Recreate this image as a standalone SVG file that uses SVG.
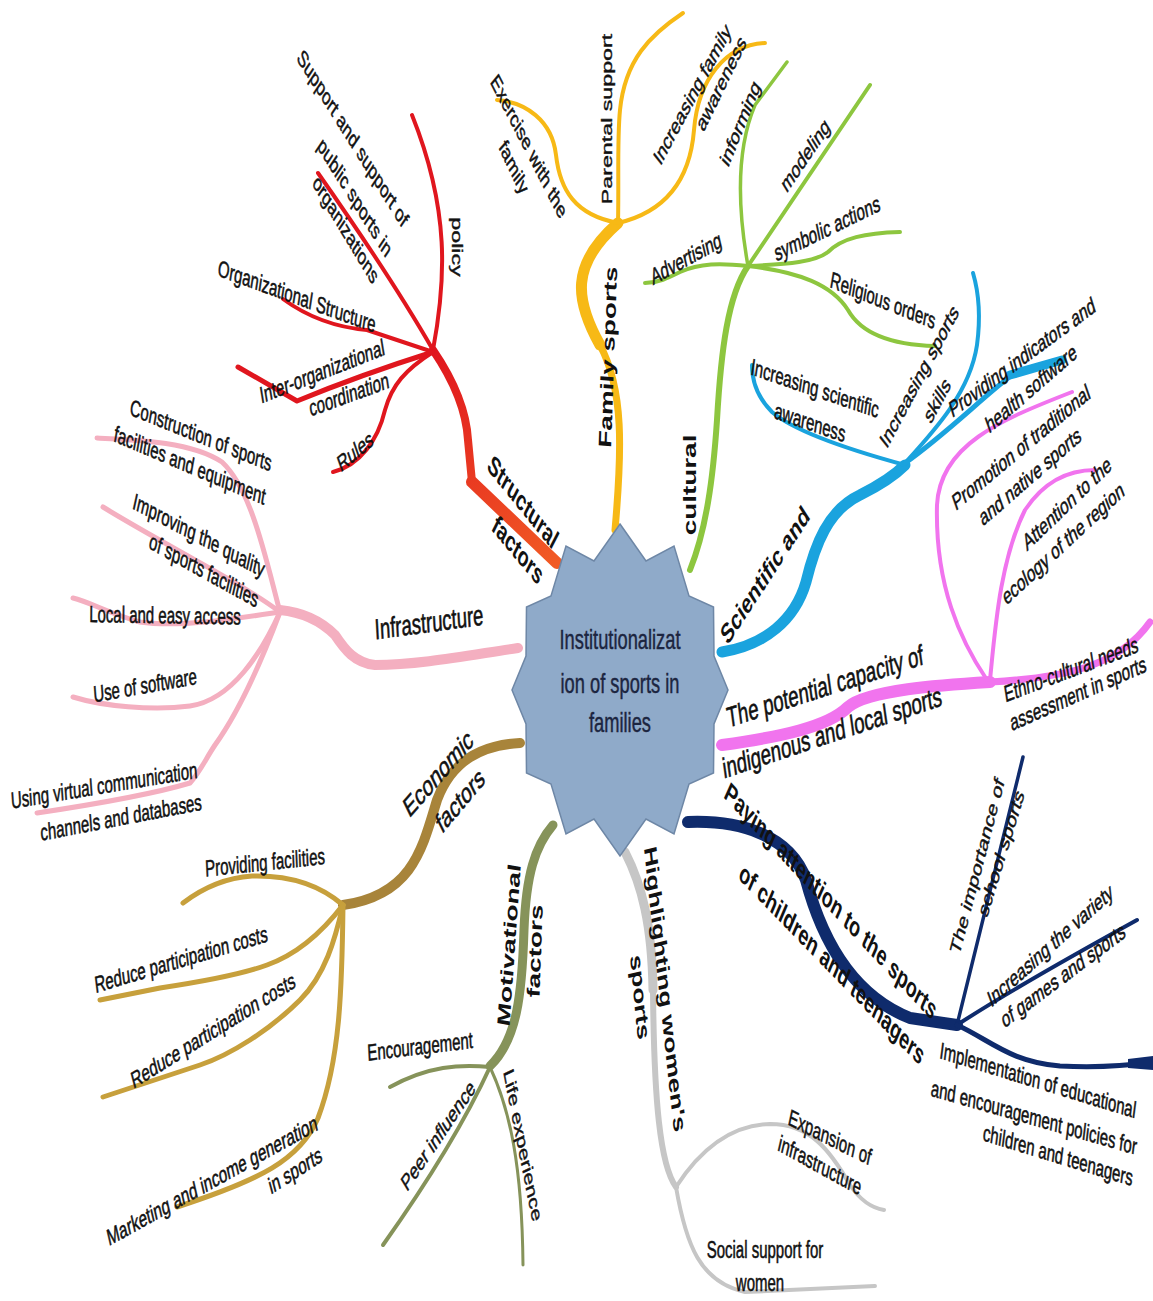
<svg xmlns="http://www.w3.org/2000/svg" width="1153" height="1301" viewBox="0 0 1153 1301">
<style>
text{font-family:"Liberation Sans",Arial,sans-serif;fill:#111;text-anchor:middle;dominant-baseline:central}
.s{font-size:15px;stroke:#111;stroke-width:0.35px}
.m{font-size:18px;font-weight:bold}
.r{font-size:18.5px;stroke:#111;stroke-width:0.4px}
.c{font-size:18.3px;fill:#1c2540;stroke:#1c2540;stroke-width:0.3px}
.ln{fill:none;stroke-linecap:round;stroke-linejoin:round}
.red{stroke:#E0161E}.yel{stroke:#F7B916}.grn{stroke:#8DC63F}.blu{stroke:#1AA3DE}
.mag{stroke:#F174EE}.nav{stroke:#0F2B6C}.gry{stroke:#C6C6C6}.olv{stroke:#86935A}
.gld{stroke:#C7A03C}.brn{stroke:#A8843A}.pnk{stroke:#F4AFC0}
</style>
<defs>
<linearGradient id="gRed" gradientUnits="userSpaceOnUse" x1="557" y1="563" x2="433" y2="350">
<stop offset="0" stop-color="#F15A24"/><stop offset="1" stop-color="#E0161E"/>
</linearGradient>
</defs>
<rect width="1153" height="1301" fill="#fff"/>
<g id="connectors">
<!-- red -->
<path class="ln" stroke="url(#gRed)" stroke-width="12" d="M557,563 L472,482"/>
<path class="ln" stroke="url(#gRed)" stroke-width="8" d="M472,482 L468,440 C466,405 450,375 433,350"/>
<path class="ln red" stroke-width="4" d="M433,350 C446,280 450,210 412,115"/>
<path class="ln red" stroke-width="4" d="M433,350 C410,310 365,240 318,173"/>
<path class="ln red" stroke-width="4" d="M283,299 Q320,326 367,330 L433,352"/>
<path class="ln red" stroke-width="5" d="M238,367 L297,401 Q360,375 433,352"/>
<path class="ln red" stroke-width="4" d="M433,352 C405,370 392,385 385,410 C378,440 360,465 333,472"/>
<!-- yellow -->
<path class="ln yel" stroke-width="7" d="M615,530 C622,450 624,390 600,345"/>
<path class="ln yel" stroke-width="11" d="M600,345 C575,300 570,265 618,223"/>
<path class="ln yel" stroke-width="4" d="M618,223 C575,215 560,190 556,155 C552,120 525,102 497,100"/>
<path class="ln yel" stroke-width="4" d="M618,223 C619,180 617,140 620,110 C625,60 650,35 683,13"/>
<path class="ln yel" stroke-width="4" d="M618,223 C665,212 690,180 694,130 C698,80 725,45 765,43"/>
<!-- green -->
<path class="ln grn" stroke-width="6" d="M690,570 C706,530 713,480 717,420 C721,350 728,295 748,266"/>
<path class="ln grn" stroke-width="3.5" d="M748,266 C738,210 736,150 755,105 L787,62"/>
<path class="ln grn" stroke-width="4" d="M748,266 L870,85"/>
<path class="ln grn" stroke-width="4" d="M748,266 C790,264 815,262 828,252 C842,238 865,233 900,232"/>
<path class="ln grn" stroke-width="4" d="M748,266 C800,272 832,285 848,310 C862,335 895,345 935,346"/>
<path class="ln grn" stroke-width="4" d="M748,266 C720,263 700,263 680,272 C668,278 658,283 645,283"/>
<!-- blue -->
<path class="ln blu" stroke-width="11" d="M722,652 C765,645 795,620 806,582 C815,545 828,510 860,495 C880,485 895,475 905,465"/>
<path class="ln blu" stroke-width="4" d="M905,465 C850,450 795,432 772,412 C758,398 752,382 752,365"/>
<path class="ln blu" stroke-width="4" d="M905,463 C935,430 970,392 977,345 C981,315 978,290 973,273"/>
<path class="ln blu" stroke-width="5" d="M905,463 C945,435 985,395 1012,375"/>
<path class="ln blu" stroke-width="9" d="M1010,375 L1062,360"/>
<!-- magenta -->
<path class="ln mag" stroke-width="12" d="M722,745 C780,737 828,727 848,707 C868,690 940,685 990,682"/>
<path class="ln mag" stroke-width="7" d="M990,682 C1060,678 1118,668 1150,622"/>
<path class="ln mag" stroke-width="4" d="M987,680 C960,640 935,585 937,505 C940,445 1000,420 1072,392"/>
<path class="ln mag" stroke-width="4" d="M990,680 C995,630 1000,560 1025,510 C1045,480 1070,470 1095,470"/>
<!-- navy -->
<path class="ln nav" stroke-width="12" d="M688,822 C740,820 790,835 806,880 C822,940 852,995 910,1018 L957,1025"/>
<path class="ln nav" stroke-width="3.5" d="M957,1025 L1023,757"/>
<path class="ln nav" stroke-width="4" d="M957,1025 C995,1000 1050,968 1137,920"/>
<path class="ln nav" stroke-width="5" d="M957,1025 C990,1040 1010,1062 1060,1066 C1100,1068 1125,1066 1150,1062"/>
<path fill="#0F2B6C" d="M1128,1059 L1153,1056 L1153,1070 L1128,1068 Z"/>
<!-- gray -->
<path class="ln gry" stroke-width="9" d="M625,852 C642,885 652,925 653,990"/>
<path class="ln gry" stroke-width="6" d="M653,990 C654,1100 660,1165 676,1187"/>
<path class="ln gry" stroke-width="4" d="M676,1187 C700,1150 730,1125 770,1124 C810,1124 830,1150 850,1185 C860,1200 872,1208 884,1210"/>
<path class="ln gry" stroke-width="4" d="M676,1187 C686,1245 700,1282 745,1292 L875,1286"/>
<!-- olive -->
<path class="ln olv" stroke-width="9" d="M553,825 C535,846 526,875 524,930 C522,995 517,1040 490,1066"/>
<path class="ln olv" stroke-width="4" d="M490,1067 C460,1064 428,1066 390,1087"/>
<path class="ln olv" stroke-width="4" d="M490,1067 C462,1128 422,1190 383,1245"/>
<path class="ln olv" stroke-width="3" d="M490,1067 C510,1110 522,1165 523,1265"/>
<!-- gold -->
<path class="ln brn" stroke-width="10" d="M520,743 C482,745 452,760 437,800 C422,850 412,895 343,905"/>
<path class="ln gld" stroke-width="5" d="M343,905 C320,885 290,875 252,876 C222,878 200,890 183,903"/>
<path class="ln gld" stroke-width="5" d="M343,905 C320,935 295,955 267,965 C240,975 200,982 160,988 L100,1000"/>
<path class="ln gld" stroke-width="5" d="M343,905 C335,940 325,975 300,1000 C270,1030 230,1055 200,1065 L103,1097"/>
<path class="ln gld" stroke-width="5" d="M343,905 C342,990 340,1060 318,1118 C300,1160 260,1180 177,1207"/>
<!-- pink -->
<path class="ln pnk" stroke-width="10" d="M518,648 C470,655 420,665 375,665 C355,663 345,650 335,635 C320,620 300,612 280,610"/>
<path class="ln pnk" stroke-width="5" d="M280,612 C266,560 252,490 222,462 C192,442 140,440 97,438"/>
<path class="ln pnk" stroke-width="5" d="M280,612 C240,582 165,545 103,507"/>
<path class="ln pnk" stroke-width="5" d="M280,612 C240,618 180,628 140,622 C110,614 90,602 73,598"/>
<path class="ln pnk" stroke-width="5" d="M280,612 C262,652 232,700 190,706 C152,711 102,706 73,697"/>
<path class="ln pnk" stroke-width="5" d="M280,612 C262,660 240,710 215,745 C205,760 200,772 190,783 C150,795 90,805 37,813"/>
</g>
<g id="center">
<polygon fill="#8FAAC9" stroke="#6E87A6" stroke-width="1.5" points="620,524 646,561 674,546 689,596 713.5,607 714,656 728,690 714,724 713.5,773 689,784 674,834 646,819 620,856 594,819 566,834 551,784 526.5,773 526,724 512,690 526,656 526.5,607 551,596 566,546 594,561"/>
<text class="c" transform="translate(620,639) scale(1,1.55)">Institutionalizat</text>
<text class="c" transform="translate(620,683) scale(1,1.55)">ion of sports in</text>
<text class="c" transform="translate(620,722) scale(1,1.55)">families</text>
</g>
<g id="structural">
<text class="m" transform="translate(523,502) scale(1,1.55) rotate(38.5)">Structural</text>
<text class="m" transform="translate(518,550) scale(1,1.55) rotate(37.6)">factors</text>
</g>
<g id="policy"><text class="s" transform="translate(457,247) scale(1,1.55) rotate(90)">policy</text></g>
<g id="support-public">
<text class="s" transform="translate(353,138) scale(1,1.55) rotate(45.9)">Support and support of</text>
<text class="s" transform="translate(355,197) scale(1,1.55) rotate(46)">public sports in</text>
<text class="s" transform="translate(346,229) scale(1,1.55) rotate(47)">organizations</text>
</g>
<g id="org-structure"><text class="s" transform="translate(297,296) scale(1,1.55) rotate(13.2)">Organizational Structure</text></g>
<g id="inter-org">
<text class="s" transform="translate(322,371) scale(1,1.55) rotate(-14.3)">Inter-organizational</text>
<text class="s" transform="translate(349,394) scale(1,1.55) rotate(-13.2)">coordination</text>
</g>
<g id="rules"><text class="s" transform="translate(355,451) scale(1,1.55) rotate(-28.4)">Rules</text></g>
<g id="family-sports"><text class="m" transform="translate(608,357) scale(1,1.55) rotate(-87)">Family sports</text></g>
<g id="exercise">
<text class="s" transform="translate(529,146) scale(1,1.55) rotate(51.7)">Exercise with the</text>
<text class="s" transform="translate(514,167) scale(1,1.55) rotate(53.9)">family</text>
</g>
<g id="parental"><text class="s" transform="translate(607,119) scale(1,1.55) rotate(-90)">Parental support</text></g>
<g id="fam-awareness">
<text class="s" transform="translate(692,94) scale(1,1.55) rotate(-50.5)">Increasing family</text>
<text class="s" transform="translate(721,83) scale(1,1.55) rotate(-52.9)">awareness</text>
</g>
<g id="cultural"><text class="m" transform="translate(690,485) scale(1,1.55) rotate(-90)">cultural</text></g>
<g id="informing"><text class="s" transform="translate(740,123) scale(1,1.55) rotate(-58)">informing</text></g>
<g id="modeling"><text class="s" transform="translate(805,155) scale(1,1.55) rotate(-43.7)">modeling</text></g>
<g id="symbolic"><text class="s" transform="translate(827,228) scale(1,1.55) rotate(-17.5)">symbolic actions</text></g>
<g id="religious"><text class="s" transform="translate(883,300) scale(1,1.55) rotate(14.5)">Religious orders</text></g>
<g id="advertising"><text class="s" transform="translate(686,258) scale(1,1.55) rotate(-19.7)">Advertising</text></g>
<g id="scientific"><text class="m" transform="translate(765,575) scale(1,1.55) rotate(-44.8)">Scientific and</text></g>
<g id="sci-awareness">
<text class="s" transform="translate(815,388) scale(1,1.55) rotate(12.5)">Increasing scientific</text>
<text class="s" transform="translate(810,422) scale(1,1.55) rotate(12.5)">awareness</text>
</g>
<g id="sports-skills">
<text class="s" transform="translate(919,376) scale(1,1.55) rotate(-50.5)">Increasing sports</text>
<text class="s" transform="translate(937,400) scale(1,1.55) rotate(-50.5)">skills</text>
</g>
<g id="indicators">
<text class="s" transform="translate(1022,357) scale(1,1.55) rotate(-25.6)">Providing indicators and</text>
<text class="s" transform="translate(1031,388) scale(1,1.55) rotate(-29.3)">health software</text>
</g>
<g id="indigenous">
<text class="r" transform="translate(825,686) scale(1,1.55) rotate(-11.8)">The potential capacity of</text>
<text class="r" transform="translate(832,732) scale(1,1.55) rotate(-12.2)">indigenous and local sports</text>
</g>
<g id="promotion">
<text class="s" transform="translate(1021,447) scale(1,1.55) rotate(-28.4)">Promotion of traditional</text>
<text class="s" transform="translate(1030,476) scale(1,1.55) rotate(-29.3)">and native sports</text>
</g>
<g id="ecology">
<text class="s" transform="translate(1067,503) scale(1,1.55) rotate(-31.9)">Attention to the</text>
<text class="s" transform="translate(1063,543) scale(1,1.55) rotate(-31)">ecology of the region</text>
</g>
<g id="ethno">
<text class="s" transform="translate(1071,669) scale(1,1.55) rotate(-13.7)">Ethno-cultural needs</text>
<text class="s" transform="translate(1078,693) scale(1,1.55) rotate(-16)">assessment in sports</text>
</g>
<g id="children">
<text class="m" transform="translate(831,901) scale(1,1.55) rotate(34.6)">Paying attention to the sports</text>
<text class="m" transform="translate(832,964) scale(1,1.55) rotate(33.6)">of children and teenagers</text>
</g>
<g id="school">
<text class="s" transform="translate(977,866) scale(1,1.55) rotate(-68)">The importance of</text>
<text class="s" transform="translate(1001,853) scale(1,1.55) rotate(-64.6)">school sports</text>
</g>
<g id="variety">
<text class="s" transform="translate(1050,945) scale(1,1.55) rotate(-30.2)">Increasing the variety</text>
<text class="s" transform="translate(1063,975) scale(1,1.55) rotate(-25.9)">of games and sports</text>
</g>
<g id="implementation">
<text class="s" transform="translate(1038,1080) scale(1,1.55) rotate(11.2)">Implementation of educational</text>
<text class="s" transform="translate(1034,1117) scale(1,1.55) rotate(10.5)">and encouragement policies for</text>
<text class="s" transform="translate(1058,1155) scale(1,1.55) rotate(11.2)">children and teenagers</text>
</g>
<g id="women">
<text class="m" transform="translate(665,989) scale(1,1.55) rotate(80.7)">Highlighting women's</text>
<text class="m" transform="translate(640,997) scale(1,1.55) rotate(81.7)">sports</text>
</g>
<g id="expansion">
<text class="s" transform="translate(830,1137) scale(1,1.55) rotate(17.9)">Expansion of</text>
<text class="s" transform="translate(820,1165) scale(1,1.55) rotate(19.7)">infrastructure</text>
</g>
<g id="social">
<text class="s" transform="translate(765,1250) scale(1,1.55)">Social support for</text>
<text class="s" transform="translate(760,1283) scale(1,1.55)">women</text>
</g>
<g id="motivational">
<text class="m" transform="translate(509,945) scale(1,1.55) rotate(-83.8)">Motivational</text>
<text class="m" transform="translate(535,951) scale(1,1.55) rotate(-86.9)">factors</text>
</g>
<g id="encouragement"><text class="s" transform="translate(420,1046) scale(1,1.55) rotate(-4.5)">Encouragement</text></g>
<g id="peer"><text class="s" transform="translate(438,1135) scale(1,1.55) rotate(-43.7)">Peer influence</text></g>
<g id="life"><text class="s" transform="translate(523,1145) scale(1,1.55) rotate(73.2)">Life experience</text></g>
<g id="economic">
<text class="r" transform="translate(438,773) scale(1,1.55) rotate(-36.6)">Economic</text>
<text class="r" transform="translate(460,800) scale(1,1.55) rotate(-37.6)">factors</text>
</g>
<g id="prov-facilities"><text class="s" transform="translate(265,862) scale(1,1.55) rotate(-3.9)">Providing facilities</text></g>
<g id="reduce-1"><text class="s" transform="translate(181,959) scale(1,1.55) rotate(-10.9)">Reduce participation costs</text></g>
<g id="reduce-2"><text class="s" transform="translate(213,1030) scale(1,1.55) rotate(-22)">Reduce participation costs</text></g>
<g id="marketing">
<text class="s" transform="translate(212,1180) scale(1,1.55) rotate(-19.7)">Marketing and income generation</text>
<text class="s" transform="translate(295,1170) scale(1,1.55) rotate(-22.7)">in sports</text>
</g>
<g id="infrastructure"><text class="r" transform="translate(429,622) scale(1,1.55) rotate(-5)">Infrastructure</text></g>
<g id="construction">
<text class="s" transform="translate(201,435) scale(1,1.55) rotate(14.6)">Construction of sports</text>
<text class="s" transform="translate(190,465) scale(1,1.55) rotate(15.3)">facilities and equipment</text>
</g>
<g id="improving">
<text class="s" transform="translate(199,535) scale(1,1.55) rotate(18.9)">Improving the quality</text>
<text class="s" transform="translate(204,570) scale(1,1.55) rotate(19.7)">of sports facilities</text>
</g>
<g id="local"><text class="s" transform="translate(165,615) scale(1,1.55) rotate(0.6)">Local and easy access</text></g>
<g id="software"><text class="s" transform="translate(145,685) scale(1,1.55) rotate(-6.5)">Use of software</text></g>
<g id="virtual">
<text class="s" transform="translate(104,785) scale(1,1.55) rotate(-6.1)">Using virtual communication</text>
<text class="s" transform="translate(121,817) scale(1,1.55) rotate(-7.1)">channels and databases</text>
</g>
</svg>
